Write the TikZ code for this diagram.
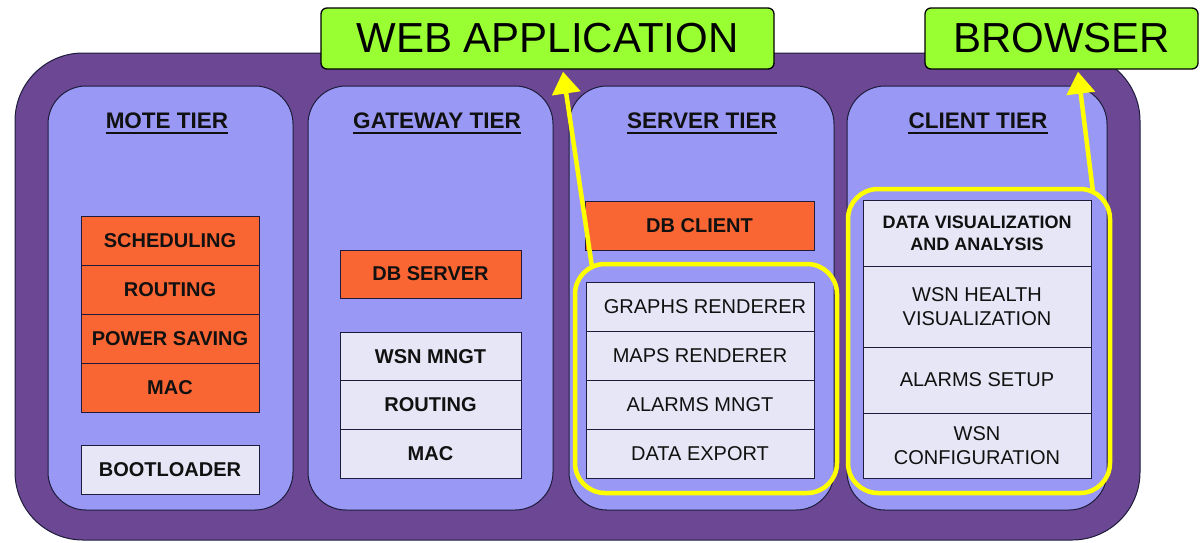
\documentclass[tikz,border=0pt]{standalone}
\usepackage{fontspec}
\setmainfont{Liberation Sans}
\usetikzlibrary{arrows.meta}

\definecolor{outerpurple}{RGB}{107,71,148}
\definecolor{tierblue}{RGB}{153,153,245}
\definecolor{layerorange}{RGB}{250,102,51}
\definecolor{layerlight}{RGB}{230,230,246}
\definecolor{labelgreen}{RGB}{153,255,51}
\definecolor{edgedark}{RGB}{30,28,60}
\definecolor{inktext}{RGB}{17,17,17}
\definecolor{hiyellow}{RGB}{255,255,0}

\begin{document}
\begin{tikzpicture}[x=1pt,y=-1pt,
  frame/.style={draw=edgedark, line width=1pt, fill=outerpurple, rounded corners=68pt,
    inner sep=0pt},
  tier/.style={draw=edgedark, line width=1pt, fill=tierblue, rounded corners=38pt,
    inner sep=0pt, minimum height=424pt},
  tiertitle/.style={inner sep=0pt, text depth=0pt, text=inktext,
    font=\fontsize{22.5}{24}\selectfont\bfseries},
  titleline/.style={draw=inktext, line width=2.2pt},
  layer/.style={draw=edgedark, line width=0.9pt, inner sep=0pt, text=inktext,
    align=center, font=\fontsize{20}{23}\selectfont},
  hot/.style={layer, fill=layerorange, font=\fontsize{20}{23}\selectfont\bfseries},
  cold/.style={layer, fill=layerlight, font=\fontsize{20}{23}\selectfont\bfseries},
  plain/.style={layer, fill=layerlight},
  select/.style={draw=hiyellow, line width=4.5pt, rounded corners=30pt, inner sep=0pt},
  tag/.style={draw=black, line width=1.3pt, fill=labelgreen, rounded corners=6pt,
    inner sep=0pt, text=black, font=\fontsize{42}{44}\selectfont},
  pointer/.style={draw=hiyellow, line width=4.5pt,
    -{Triangle[width=28pt,length=22pt]}}
]
\useasboundingbox (0,0) rectangle (1201,542);

% outer container
\node[frame, minimum width=1125pt, minimum height=487pt] (system) at (577.5,296.5) {};

% the four tiers
\node[tier, minimum width=245pt] (mote)    at (170.5,298) {};
\node[tier, minimum width=245pt] (gateway) at (430.5,298) {};
\node[tier, minimum width=265pt] (server)  at (701.5,298) {};
\node[tier, minimum width=260pt] (client)  at (977,298)   {};

% tier titles, underlined
\node[tiertitle] (motetitle)    at (167,120.5) {MOTE TIER};
\node[tiertitle] (gatewaytitle) at (437,120.5) {GATEWAY TIER};
\node[tiertitle] (servertitle)  at (702,120.5) {SERVER TIER};
\node[tiertitle] (clienttitle)  at (978,120.5) {CLIENT TIER};
\foreach \t in {motetitle,gatewaytitle,servertitle,clienttitle}
  \draw[titleline] ([yshift=-4.5pt]\t.south west) -- ([yshift=-4.5pt]\t.south east);

% mote tier stack
\begin{scope}[every node/.append style={minimum width=178pt, minimum height=49pt}]
  \node[hot]  (msched) at (170,240.5) {SCHEDULING};
  \node[hot]  (mrout)  at (170,289.5) {ROUTING};
  \node[hot]  (mpower) at (170,338.5) {POWER SAVING};
  \node[hot]  (mmac)   at (170,387.5) {MAC};
  \node[cold] (mboot)  at (170,469.5) {BOOTLOADER};
\end{scope}

% gateway tier stack
\begin{scope}[every node/.append style={minimum width=181pt}]
  \node[hot, minimum height=48pt]     (gdb)   at (430.5,274)   {DB SERVER};
  \node[cold, minimum height=48.7pt]  (gwsn)  at (430.5,356.3) {WSN MNGT};
  \node[cold, minimum height=48.7pt]  (grout) at (430.5,405)   {ROUTING};
  \node[cold, minimum height=48.7pt]  (gmac)  at (430.5,453.7) {MAC};
\end{scope}

% server tier stack
\node[hot, minimum width=229pt, minimum height=49pt] (sdb) at (699.5,225.5) {DB CLIENT};
\begin{scope}[every node/.append style={minimum width=228pt, minimum height=49pt}]
  \node[plain] (sgraph)  at (700,306.5) {\hspace*{10pt}GRAPHS RENDERER};
  \node[plain] (smaps)   at (700,355.5) {MAPS RENDERER};
  \node[plain] (salarm)  at (700,404.5) {ALARMS MNGT};
  \node[plain] (sexport) at (700,453.5) {DATA EXPORT};
\end{scope}

% client tier stack
\begin{scope}[every node/.append style={minimum width=228pt}]
  \node[cold,  minimum height=66pt, font=\fontsize{18}{22}\selectfont\bfseries]
    (cdata)   at (977,233)   {DATA VISUALIZATION\\AND ANALYSIS};
  \node[plain, minimum height=81pt, font=\fontsize{20}{24}\selectfont]
    (chealth) at (977,306.5) {WSN HEALTH\\VISUALIZATION};
  \node[plain, minimum height=66pt] (calarm)  at (977,380)   {ALARMS SETUP};
  \node[plain, minimum height=65pt, font=\fontsize{20}{24}\selectfont]
    (cconf)   at (977,445.5) {WSN\\CONFIGURATION};
\end{scope}

% highlighted groups
\node[select, minimum width=262pt, minimum height=229pt] (webgroup) at (706,378.5) {};
\node[select, minimum width=262pt, minimum height=304pt] (browsergroup) at (979,341) {};

% tags
\node[tag, minimum width=453pt, minimum height=61pt] (webapp)  at (547.5,38.5)  {WEB APPLICATION};
\node[tag, minimum width=273pt, minimum height=61pt] (browser) at (1061.5,38.5) {BROWSER};

% pointers from the groups to their tags
\coordinate (webtail)     at (592,267);
\coordinate (browsertail) at (1093,192);
\draw[pointer] (webtail) -- ([xshift=15.5pt,yshift=-2pt]webapp.south);
\draw[pointer] (browsertail) -- ([xshift=16.5pt,yshift=-2pt]browser.south);
\end{tikzpicture}
\end{document}
